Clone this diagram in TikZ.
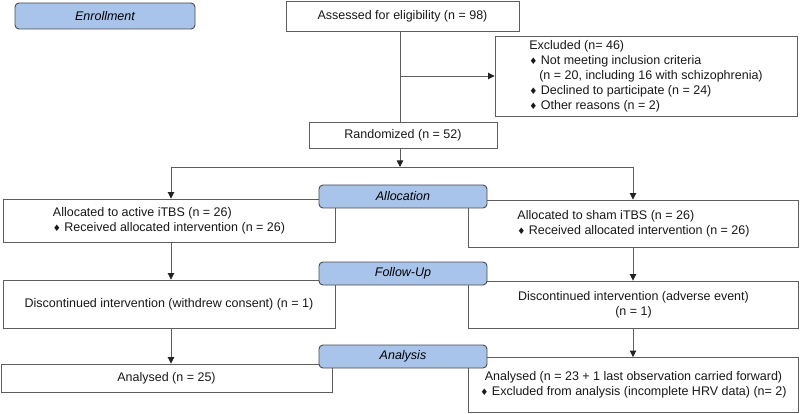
\documentclass[tikz,border=0pt]{standalone}
\usepackage{fontspec}
\setmainfont{Liberation Sans}
\newfontfamily\symfont{DejaVu Sans}
\usetikzlibrary{arrows.meta}
\definecolor{lc}{HTML}{5E5E5E}
\definecolor{tipc}{HTML}{222222}
\definecolor{hdrline}{HTML}{4A4A4A}
\definecolor{hb}{HTML}{A9C4EB}
\newcommand{\dmd}{\mbox{\symfont\fontsize{9}{9}\selectfont\char"2666}\ }
\begin{document}
\begin{tikzpicture}[x=1pt,y=-1pt,
  font=\fontsize{12.5}{15}\selectfont,
  box/.style={draw=lc, line width=0.9pt, inner sep=0pt, align=left, fill=white, text=black!90},
  hdr/.style={draw=hdrline, line width=0.9pt, fill=hb, rounded corners=4pt,
    font=\fontsize{12.5}{15}\selectfont\itshape, minimum width=168pt,
    minimum height=23pt, inner sep=0pt},
  arr/.style={draw=lc, line width=0.9pt, -{Triangle[length=6.5pt,width=6.5pt,color=tipc]}},
  ln/.style={draw=lc, line width=0.9pt}]
\useasboundingbox (0,0) rectangle (800,414);

% boxes
\node[box, minimum width=233pt, minimum height=30pt] (assess) at (402.5,16) {Assessed for eligibility (n = 98)};
\node[box, minimum width=302pt, minimum height=80pt] (excl) at (646,76) {Excluded (n= 46)\\
\dmd Not meeting inclusion criteria\\
\hspace*{10pt}(n = 20, including 16 with schizophrenia)\\
\dmd Declined to participate (n = 24)\\
\dmd Other reasons (n = 2)};
\node[box, minimum width=188pt, minimum height=26pt] (rand) at (403,135) {Randomized (n = 52)};
\node[box, minimum width=332pt, minimum height=43pt] (a1) at (169,220.5) {Allocated to active iTBS (n = 26)\\\dmd Received allocated intervention (n = 26)};
\node[box, minimum width=330pt, minimum height=47pt] (a2) at (633.5,223.5) {Allocated to sham iTBS (n = 26)\\\dmd Received allocated intervention (n = 26)};
\node[box, minimum width=332pt, minimum height=48pt] (d1) at (169,304) {Discontinued intervention (withdrew consent) (n = 1)};
\node[box, minimum width=330pt, minimum height=47pt, align=center] (d2) at (633.5,304.5) {Discontinued intervention (adverse event)\\(n = 1)};
\node[box, minimum width=331pt, minimum height=28pt] (n1) at (166.5,378) {Analysed (n = 25)};
\node[box, minimum width=330pt, minimum height=55pt, align=center] (n2) at (633.5,385) {Analysed (n = 23 + 1 last observation carried forward)\\\dmd Excluded from analysis (incomplete HRV data) (n= 2)};

% connectors
\coordinate (mid) at (400,0);
\coordinate (sl) at (171,167);
\coordinate (sr) at (633,167);
\draw[ln] (assess.south -| mid) -- (rand.north -| mid);
\draw[arr] (mid |- excl.west) -- (excl.west);
\draw[arr] (rand.south -| mid) -- (mid |- sl);
\draw[ln] (sl) -- (sr);
\draw[arr] (sl) -- (a1.north -| sl);
\draw[arr] (sr) -- (a2.north -| sr);
\draw[arr] (a1.south -| sl) -- (d1.north -| sl);
\draw[arr] (a2.south -| sr) -- (d2.north -| sr);
\draw[arr] (d1.south -| sl) -- (n1.north -| sl);
\draw[arr] (d2.south -| sr) -- (n2.north -| sr);

% headers
\node[hdr, minimum width=180pt, minimum height=26pt] (enroll) at (105,16) {Enrollment};
\node[hdr] (alloc) at (403,196.5) {Allocation};
\node[hdr] (follow) at (403,273.5) {Follow-Up};
\node[hdr] (analysis) at (403,356.5) {Analysis};
\end{tikzpicture}
\end{document}
